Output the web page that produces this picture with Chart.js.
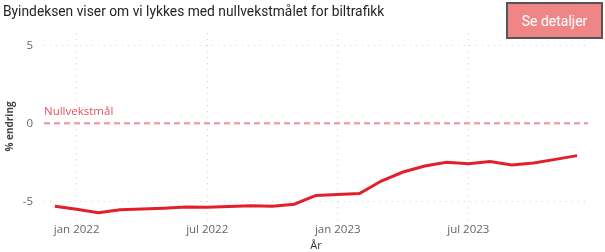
<!DOCTYPE html>
<html>
<head>
<meta charset="utf-8">
<script src="https://cdn.jsdelivr.net/npm/chart.js@4"></script>
<style>
  html, body { margin: 0; padding: 0; background: #fff; }
  #wrap { position: relative; width: 605px; height: 252px; overflow: hidden; }
  #chart { position: absolute; left: 0; top: 0; }
  #tittel {
    position: absolute; left: 3px; top: 3px;
    font-family: Roboto, sans-serif; font-size: 13.8px; color: #252423;
    white-space: nowrap;
  }
  #knapp {
    position: absolute; left: 506px; top: 2px; width: 93px; height: 33px;
    background: #ef8585; border: 2px solid #555;
    color: #fff; font-family: Roboto, sans-serif; font-size: 14px;
    display: flex; align-items: center; justify-content: center;
  }
</style>
</head>
<body>
<div id="wrap">
  <canvas id="chart" width="605" height="252"></canvas>
  <div id="tittel">Byindeksen viser om vi lykkes med nullvekstmålet for biltrafikk</div>
  <div id="knapp">Se detaljer</div>
</div>
<script>
// Data lest av figuren
const months = ['2021-12', '2022-01', '2022-02', '2022-03', '2022-04', '2022-05', '2022-06',
    '2022-07', '2022-08', '2022-09', '2022-10', '2022-11', '2022-12', '2023-01', '2023-02',
    '2023-03', '2023-04', '2023-05', '2023-06', '2023-07', '2023-08', '2023-09', '2023-10',
    '2023-11', '2023-12'];
const byindeks = [-5.32, -5.51, -5.73, -5.54, -5.5, -5.44, -5.37, -5.38, -5.34, -5.28, -5.32,
    -5.19, -4.62, -4.57, -4.5, -3.7, -3.12, -2.74, -2.5, -2.59, -2.44, -2.67, -2.54, -2.31, -2.07];
const xTickMonths = ['2022-01', '2022-07', '2023-01', '2023-07'];
const xTickLabels = ['jan 2022', 'jul 2022', 'jan 2023', 'jul 2023'];
const yTicks = [-5, 0, 5];
const nullvekst = 0;
const nullvekstLabel = 'Nullvekstmål';

// måned -> indeks (jan 2022 = 0)
function monthIndex(m) {
    const [y, mm] = m.split('-').map(Number);
    return (y - 2022) * 12 + (mm - 1);
}

const tickFont = { family: "'Open Sans', sans-serif", size: 11.5 };

// Tekst over nullvekst-linja
const nullLabelPlugin = {
    id: 'nullLabel',
    afterDraw(chart) {
        const ctx = chart.ctx;
        const y = chart.scales.y.getPixelForValue(nullvekst);
        ctx.save();
        ctx.font = "11.5px 'Open Sans', sans-serif";
        ctx.fillStyle = '#e8505e';
        ctx.textBaseline = 'alphabetic';
        ctx.fillText(nullvekstLabel, chart.chartArea.left, y - 8);
        ctx.restore();
    }
};

const ctx = document.getElementById('chart').getContext('2d');
const chart = new Chart(ctx, {
    type: 'line',
    data: {
        datasets: [{
            label: 'Byindeks',
            data: months.map((m, i) => ({ x: monthIndex(m), y: byindeks[i] })),
            borderColor: '#e3202a',
            borderWidth: 3,
            pointRadius: 0,
            tension: 0
        }]
    },
    options: {
        responsive: false,
        animation: false,
        devicePixelRatio: 1,
        layout: { padding: { left: 0, right: 17, top: 33, bottom: 0 } },
        plugins: {
            legend: { display: false },
            tooltip: { enabled: false }
        },
        scales: {
            x: {
                type: 'linear',
                min: -1.5,
                max: 23.5,
                afterBuildTicks: axis => { axis.ticks = xTickMonths.map(m => ({ value: monthIndex(m) })); },
                afterFit: axis => { axis.height = 32; },
                ticks: {
                    color: '#666',
                    font: tickFont,
                    padding: 3,
                    maxRotation: 0,
                    autoSkip: false,
                    callback: (v) => xTickLabels[xTickMonths.findIndex(m => monthIndex(m) === v)]
                },
                grid: { color: '#d6d6d6', lineWidth: 1, drawTicks: false },
                border: { display: false, dash: [1, 5] },
                title: {
                    display: true,
                    text: 'År',
                    color: '#333',
                    font: { family: "'Open Sans', sans-serif", size: 11 },
                    padding: { top: 1.5, bottom: 0 }
                }
            },
            y: {
                min: -6.2,
                max: 5.8,
                afterBuildTicks: axis => { axis.ticks = yTicks.map(v => ({ value: v })); },
                afterFit: axis => { axis.width = 44; },
                ticks: { color: '#666', font: tickFont, padding: 11 },
                grid: {
                    drawTicks: false,
                    color: c => c.tick && c.tick.value === nullvekst ? 'rgba(236,140,150,0.8)' : '#d6d6d6',
                    lineWidth: c => c.tick && c.tick.value === nullvekst ? 2.5 : 1
                },
                border: {
                    display: false,
                    dash: c => c.tick && c.tick.value === nullvekst ? [6, 4] : [1, 5]
                },
                title: {
                    display: true,
                    text: '% endring',
                    color: '#444',
                    font: { family: "'Open Sans', sans-serif", size: 10, weight: 'bold' },
                    padding: { top: 4, bottom: 0 }
                }
            }
        }
    },
    plugins: [nullLabelPlugin]
});
</script>
</body>
</html>
